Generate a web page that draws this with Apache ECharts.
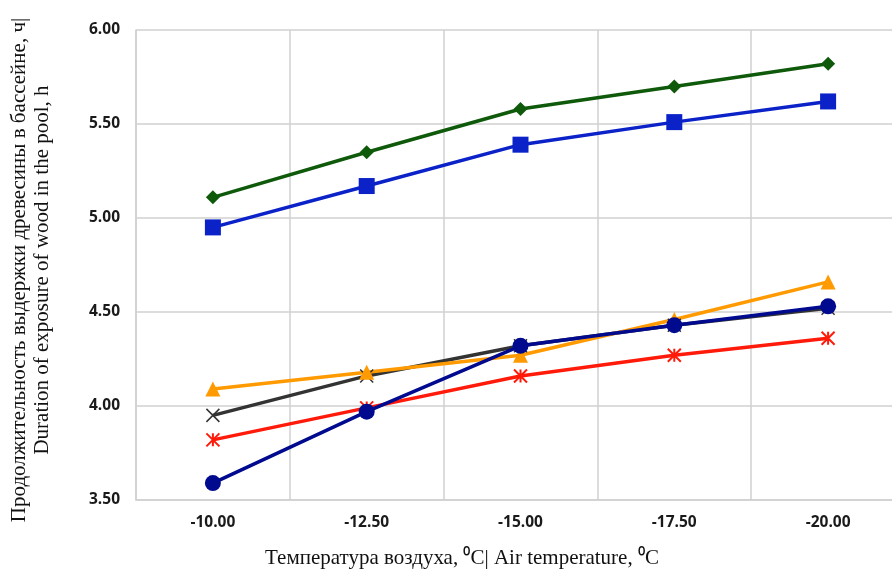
<!DOCTYPE html>
<html><head><meta charset="utf-8">
<script src="https://cdn.jsdelivr.net/npm/echarts@6/dist/echarts.min.js"></script>
<style>html,body{margin:0;padding:0;background:#fff}#c{width:892px;height:572px}</style>
</head><body><div id="c"></div>
<script>
var categories = ['-10.00', '-12.50', '-15.00', '-17.50', '-20.00'];
var seriesGreen  = [5.11, 5.35, 5.58, 5.70, 5.82];
var seriesBlue   = [4.95, 5.17, 5.39, 5.51, 5.62];
var seriesBlack  = [3.95, 4.16, 4.32, 4.43, 4.52];
var seriesOrange = [4.09, 4.18, 4.27, 4.46, 4.66];
var seriesRed    = [3.82, 3.99, 4.16, 4.27, 4.36];
var seriesNavy   = [3.59, 3.97, 4.32, 4.43, 4.53];
var yTitle = 'Продолжительность выдержки древесины в бассейне, ч|\nDuration of exposure of wood in the pool, h';
var xTitle = 'Температура воздуха, ⁰C| Air temperature, ⁰C';

function mk(name, data, color, symbol, size, extra) {
  var s = {
    name: name, type: 'line', data: data, symbol: symbol, symbolSize: size,
    lineStyle: {color: color, width: 3.5},
    itemStyle: {color: color},
    z: 2
  };
  if (extra) for (var k in extra) s[k] = extra[k];
  return s;
}

var chart = echarts.init(document.getElementById('c'));
chart.setOption({
  animation: false,
  grid: {left: 136, top: 30, width: 769, height: 470, outerBoundsMode: 'none', containLabel: false},
  xAxis: {
    type: 'category', data: categories, boundaryGap: true,
    axisLine: {show: true, lineStyle: {color: '#d0d0d0', width: 1.5}},
    axisTick: {show: false},
    splitLine: {show: true, lineStyle: {color: '#d0d0d0', width: 1.5}},
    axisLabel: {color: '#1a1a1a', fontSize: 15.5, fontWeight: 'bold', fontFamily: 'Open Sans', margin: 15}
  },
  yAxis: {
    type: 'value', min: 3.5, max: 6.0, interval: 0.5,
    axisLine: {show: true, lineStyle: {color: '#d0d0d0', width: 1.5}},
    axisTick: {show: false},
    splitLine: {show: true, lineStyle: {color: '#d0d0d0', width: 1.5}},
    axisLabel: {color: '#1a1a1a', fontSize: 15.5, fontWeight: 'bold', fontFamily: 'Open Sans', margin: 16,
      formatter: function (v) { return v.toFixed(2); }}
  },
  graphic: [
    {type: 'text', x: 31, y: 270, rotation: Math.PI / 2,
     style: {text: yTitle, font: '21px "Liberation Serif"', fill: '#111', align: 'center', verticalAlign: 'middle', lineHeight: 23}},
    {type: 'text', x: 462, y: 558,
     style: {text: xTitle, font: '21px "Liberation Serif"', fill: '#111', align: 'center', verticalAlign: 'middle'}}
  ],
  series: [
    mk('green', seriesGreen, '#0e5a0a', 'diamond', 14),
    mk('blue', seriesBlue, '#0a22c8', 'rect', 16),
    mk('red', seriesRed, '#ff1a0a', 'path://M5,0 L5,10 M0,0 L10,10 M10,0 L0,10', 13,
       {itemStyle: {color: '#ff1a0a', borderColor: '#ff1a0a', borderWidth: 2}}),
    mk('black', seriesBlack, '#333333', 'path://M0,0 L10,10 M10,0 L0,10', 13,
       {itemStyle: {color: '#333333', borderColor: '#333333', borderWidth: 1.5}}),
    mk('orange', seriesOrange, '#ff9a00', 'triangle', 15),
    mk('navy', seriesNavy, '#000a8e', 'circle', 16)
  ]
});
</script>
</body></html>
